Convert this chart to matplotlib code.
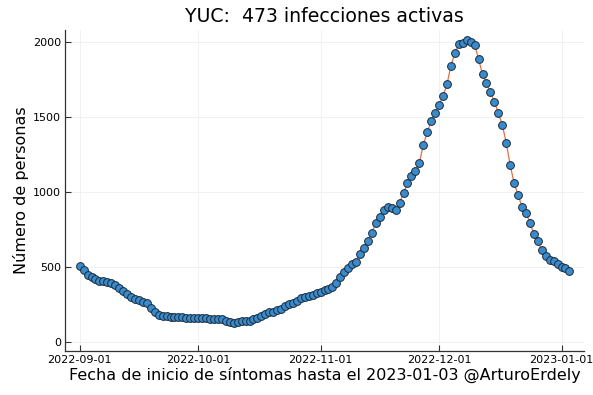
import numpy as np
import pandas as pd
import matplotlib
matplotlib.use("Agg")
import matplotlib.pyplot as plt
import matplotlib.dates as mdates

start_date = "2022-09-01"
values = [
    508, 480, 452, 436, 425, 412, 410, 405, 398, 384,
    365, 345, 325, 305, 290, 280, 272, 260, 230, 205,
    185, 176, 172, 170, 168, 167, 166, 165, 163, 162,
    163, 162, 160, 158, 157, 155, 152, 145, 132, 128,
    135, 140, 142, 145, 152, 162, 175, 190, 200, 205,
    212, 225, 240, 255, 265, 275, 295, 304, 306, 315,
    331, 338, 349, 358, 366, 398, 438, 471, 493, 522,
    538, 587, 627, 678, 731, 798, 838, 882, 900, 893,
    882, 931, 993, 1060, 1109, 1140, 1195, 1316, 1400, 1476,
    1531, 1582, 1642, 1720, 1845, 1927, 1987, 1995, 2015, 2005,
    1982, 1889, 1786, 1731, 1666, 1604, 1531, 1449, 1331, 1182,
    1060, 982, 904, 864, 798, 722, 678, 615, 575, 549,
    542, 522, 500, 493, 473,
]
xtick_labels = ["2022-09-01", "2022-10-01", "2022-11-01", "2022-12-01", "2023-01-01"]
ytick_values = [0, 500, 1000, 1500, 2000]
title = "YUC:  473 infecciones activas"
xlabel = "Fecha de inicio de síntomas hasta el 2023-01-03 @ArturoErdely"
ylabel = "Número de personas"

dates = pd.date_range(start_date, periods=len(values), freq="D")

plt.rcParams['font.family'] = ['DejaVu Sans']
fig = plt.figure(figsize=(5.93, 3.95), dpi=100)
ax = fig.add_axes([0.1096, 0.1114, 0.985 - 0.1096, 0.924 - 0.1114])

ax.plot(dates, values, color="#e26f46", linewidth=0.9, zorder=2)
ax.plot(dates, values, linestyle="none", marker="o", markersize=5.6,
        markerfacecolor="#3a8bcc", markeredgecolor="#1a2a3a", markeredgewidth=0.7, zorder=3)

d0 = pd.Timestamp(start_date)
span = len(values) - 1
pad = 0.03 * span
ax.set_xlim(d0 - pd.Timedelta(days=pad), d0 + pd.Timedelta(days=span + pad))
ax.set_ylim(-58, 2082)

ax.set_xticks([pd.Timestamp(t) for t in xtick_labels])
ax.set_xticklabels(xtick_labels)
ax.set_yticks(ytick_values)
ax.set_yticklabels([str(v) for v in ytick_values])

ax.grid(True, color="#efefef", linewidth=0.6)
ax.set_axisbelow(True)
for s in ["top", "right"]:
    ax.spines[s].set_visible(False)
for s in ["left", "bottom"]:
    ax.spines[s].set_color("#333333")
    ax.spines[s].set_linewidth(0.9)
ax.tick_params(direction="in", length=4, width=0.8, labelsize=8, color="#333333", pad=3)

ax.set_title(title, fontsize=13.6, pad=6)
ax.set_xlabel(xlabel, fontsize=11.5, labelpad=1)
ax.set_ylabel(ylabel, fontsize=11.5, labelpad=3)

fig.savefig("out.png", dpi=100)
